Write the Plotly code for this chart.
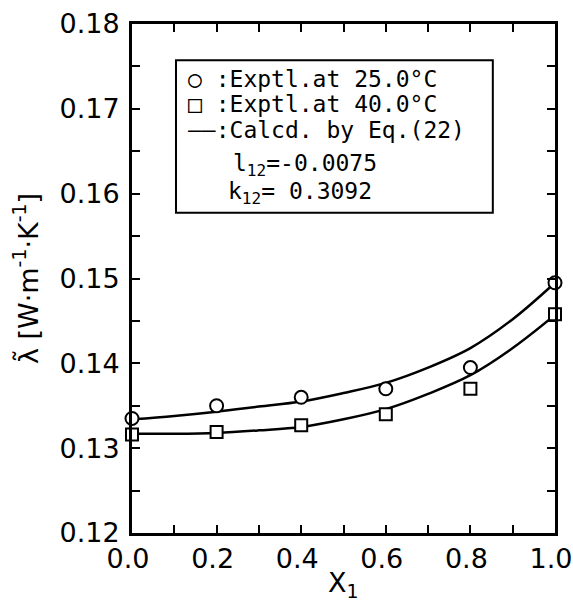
import plotly.graph_objects as go

# Experimental points
x_exp = [0.0, 0.2, 0.4, 0.6, 0.8, 1.0]
lam_25 = [0.1335, 0.1350, 0.1360, 0.1370, 0.1395, 0.1495]
lam_40 = [0.1316, 0.1319, 0.1327, 0.1340, 0.1370, 0.1458]

# Calculated curves
x_calc = [0.0, 0.1, 0.2, 0.3, 0.4, 0.5, 0.6, 0.7, 0.8, 0.9, 1.0]
calc_25 = [0.1334, 0.1338, 0.1343, 0.1349, 0.1355, 0.1365, 0.1377, 0.1395, 0.1418, 0.1452, 0.1495]
calc_40 = [0.1317, 0.1317, 0.1318, 0.1321, 0.1325, 0.1334, 0.1346, 0.1364, 0.1386, 0.1418, 0.1457]

x_ticks = [0.0, 0.2, 0.4, 0.6, 0.8, 1.0]
x_ticklabels = ["0.0", "0.2", "0.4", "0.6", "0.8", "1.0"]
y_ticks = [0.12, 0.13, 0.14, 0.15, 0.16, 0.17, 0.18]
y_ticklabels = ["0.12", "0.13", "0.14", "0.15", "0.16", "0.17", "0.18"]

x_title = "X<sub>1</sub>"
y_title = "λ\u0303 [W·m<sup>-1</sup>·K<sup>-1</sup>]"
legend_lines = ["○ :Exptl.at 25.0°C", "□ :Exptl.at 40.0°C", "——:Calcd. by Eq.(22)"]
param_lines = ["l<sub>12</sub>=-0.0075", "k<sub>12</sub>= 0.3092"]

FONT = "DejaVu Sans"
MONO = "DejaVu Sans Mono"

fig = go.Figure()
for yc in (calc_25, calc_40):
    fig.add_trace(go.Scatter(x=x_calc, y=yc, mode="lines", line=dict(color="black", width=2.5, shape="spline"),
                             showlegend=False, cliponaxis=False))
fig.add_trace(go.Scatter(x=x_exp, y=lam_25, mode="markers", cliponaxis=False, showlegend=False,
                         marker=dict(symbol="circle", size=13, color="white", line=dict(color="black", width=2))))
fig.add_trace(go.Scatter(x=x_exp, y=lam_40, mode="markers", cliponaxis=False, showlegend=False,
                         marker=dict(symbol="square", size=12, color="white", line=dict(color="black", width=2))))

axis_common = dict(showline=True, linecolor="black", linewidth=3, mirror="ticks", ticks="inside",
                   ticklen=8, tickwidth=2, tickcolor="black", showgrid=False, zeroline=False,
                   ticklabeloverflow="allow", automargin=False,
                   tickfont=dict(family=FONT, size=27, color="black"))

fig.update_xaxes(range=[0, 1], tickmode="array", tickvals=x_ticks, ticktext=x_ticklabels,
                 ticklabelshift=-4,
                 minor=dict(dtick=0.1, tick0=0, ticks="inside", ticklen=8, tickwidth=2, tickcolor="black"),
                 **axis_common)
fig.update_yaxes(range=[0.12, 0.18], tickmode="array", tickvals=y_ticks, ticktext=y_ticklabels,
                 minor=dict(dtick=0.005, tick0=0.12, ticks="inside", ticklen=8, tickwidth=2, tickcolor="black"),
                 ticklabelstandoff=4,
                 title=dict(text=y_title, font=dict(family=FONT, size=27, color="black"), standoff=14),
                 **axis_common)

# x-axis title placed under the tick labels
fig.add_annotation(xref="paper", yref="paper", x=0.5, y=-0.062, text=x_title, showarrow=False,
                   xanchor="center", yanchor="top", font=dict(family=FONT, size=27, color="black"))

# Legend box
fig.add_shape(type="rect", xref="paper", yref="paper", x0=0.104, x1=0.853, y0=0.629, y1=0.929,
              line=dict(color="black", width=2), fillcolor="white", layer="above")

ys = [0.892, 0.843, 0.792]
for t, yy in zip(legend_lines, ys):
    fig.add_annotation(xref="paper", yref="paper", x=0.128, y=yy, text=t, showarrow=False,
                       xanchor="left", yanchor="middle", font=dict(family=MONO, size=23, color="black"))
for t, yy, xx in zip(param_lines, [0.723, 0.668], [0.235, 0.222]):
    fig.add_annotation(xref="paper", yref="paper", x=xx, y=yy, text=t, showarrow=False,
                       xanchor="left", yanchor="middle", font=dict(family=MONO, size=23, color="black"))

fig.update_layout(width=573, height=604, margin=dict(l=132, r=18, t=24, b=71),
                  paper_bgcolor="white", plot_bgcolor="white", showlegend=False)

fig.write_html("out.html")
